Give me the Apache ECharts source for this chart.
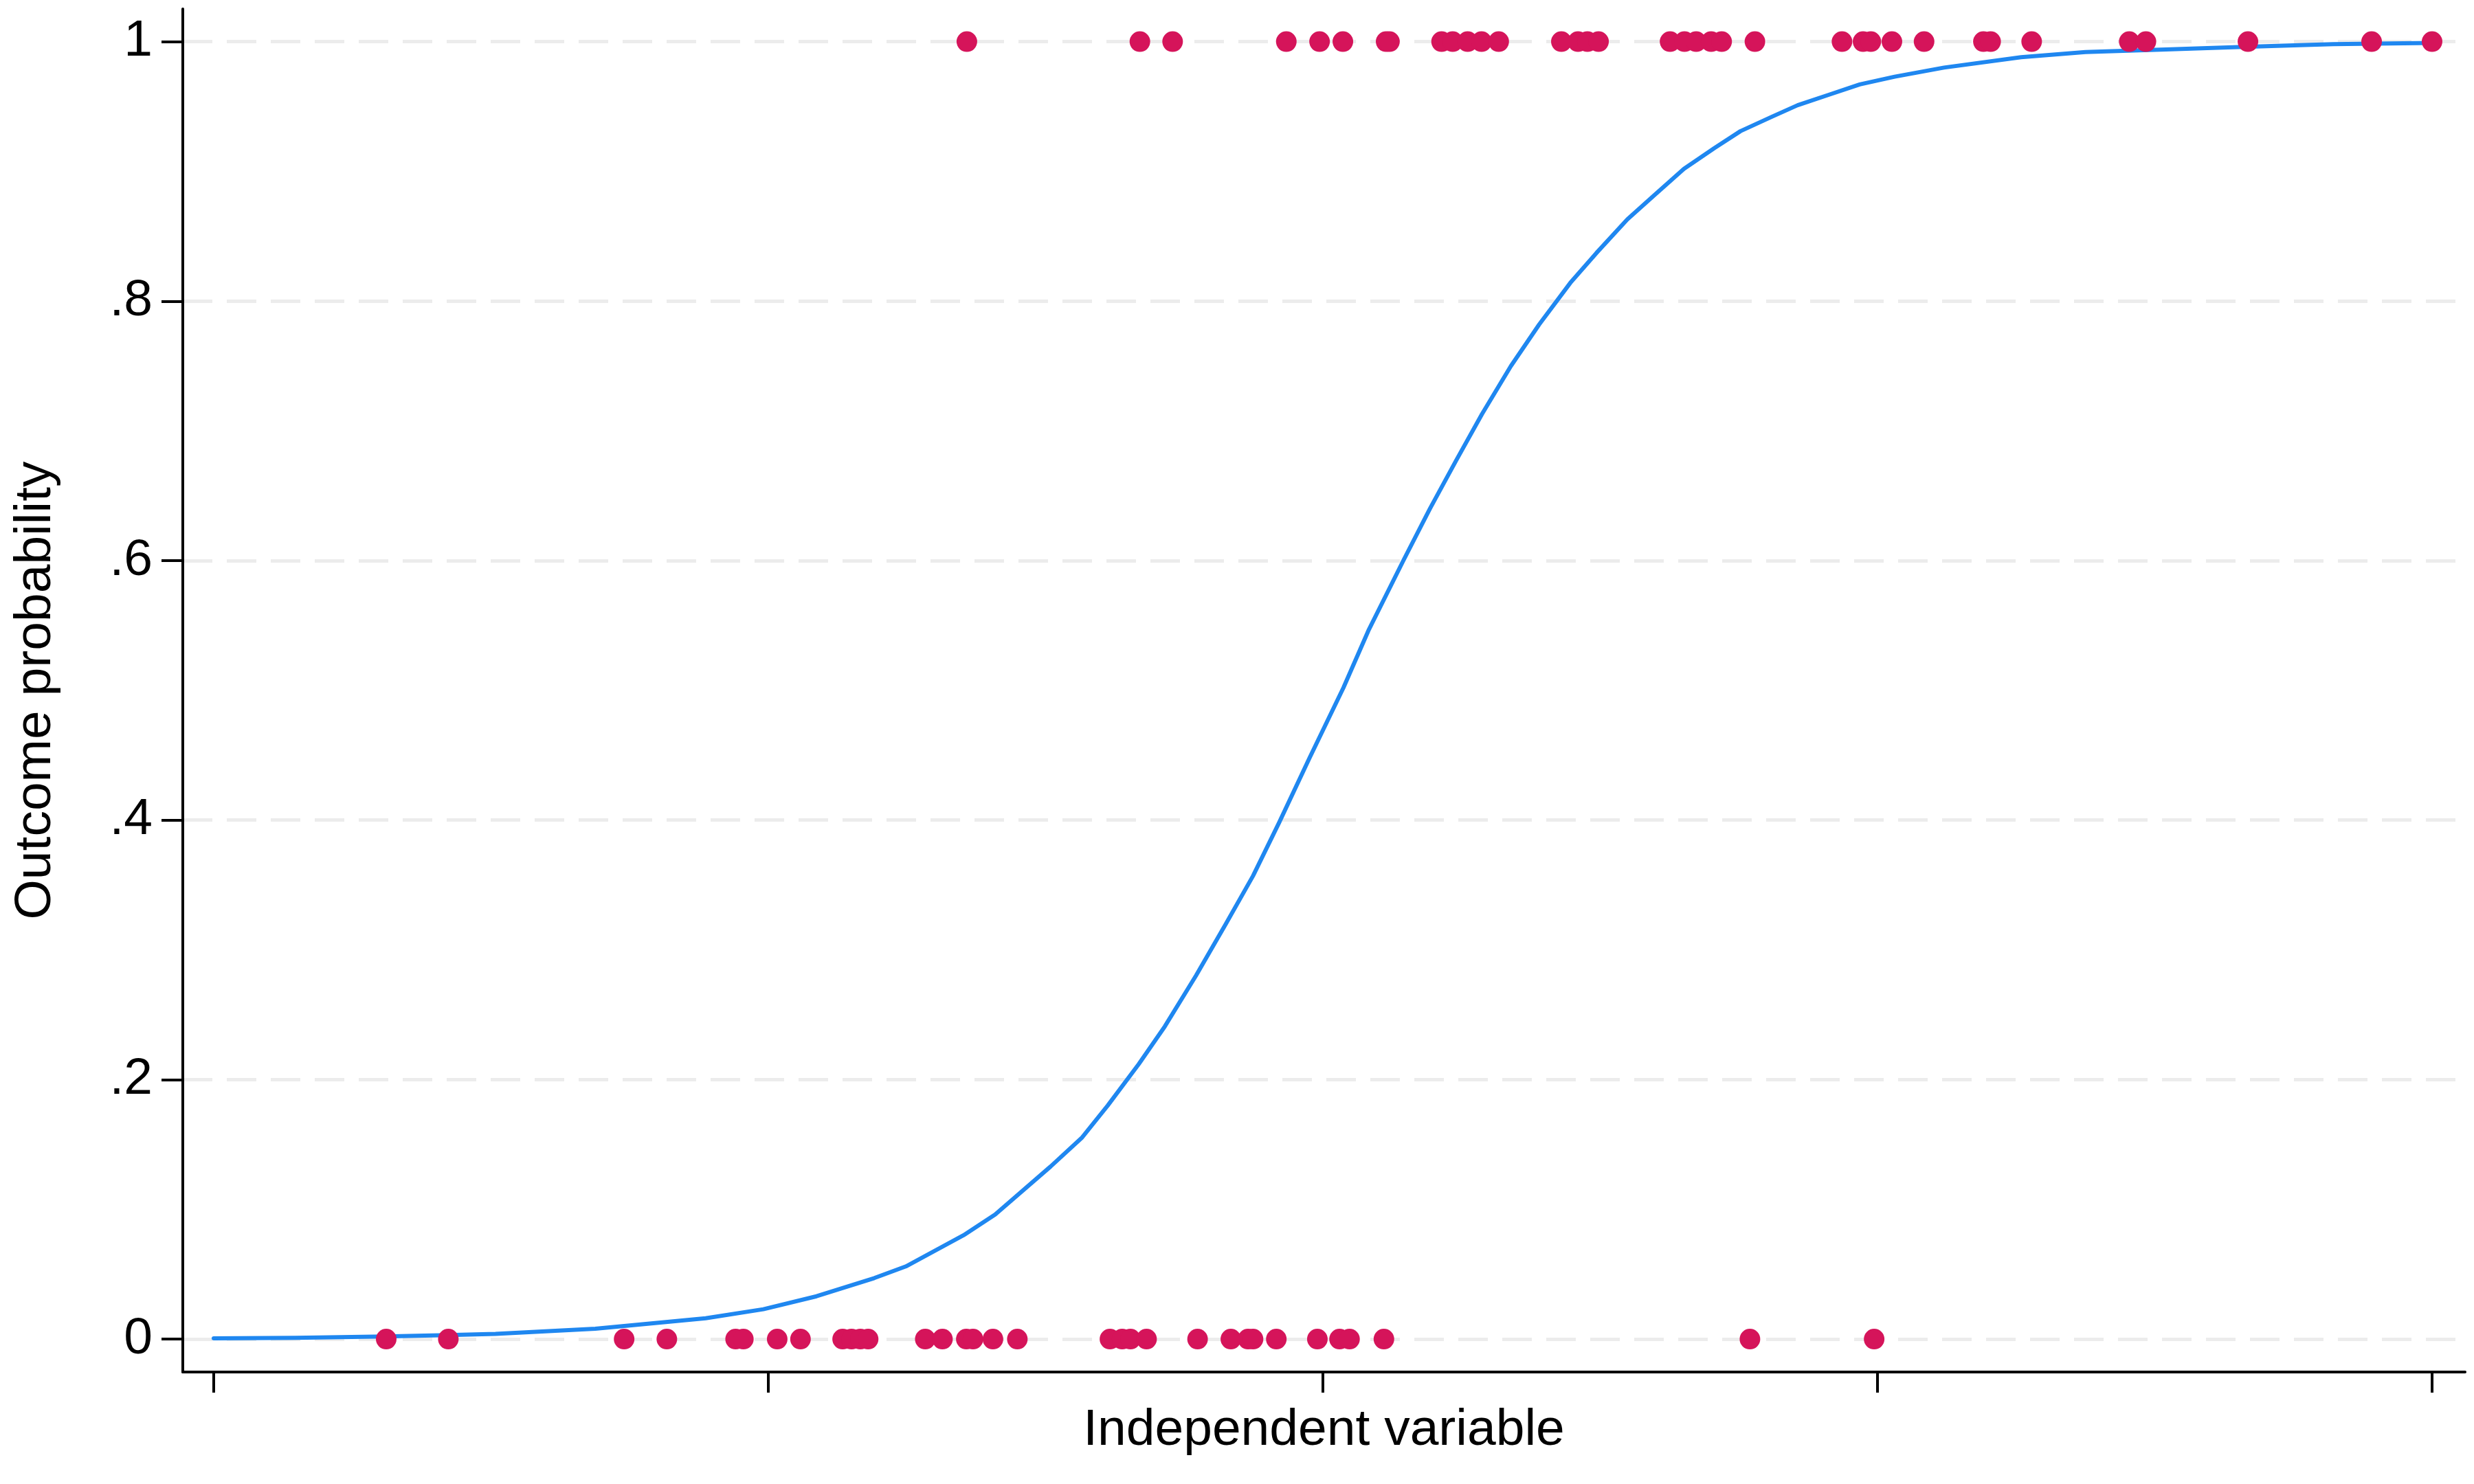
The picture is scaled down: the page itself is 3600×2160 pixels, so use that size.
<!DOCTYPE html>
<html>
<head>
<meta charset="utf-8">
<script src="https://cdn.jsdelivr.net/npm/echarts@6/dist/echarts.min.js"></script>
<style>
html,body{margin:0;padding:0;background:#ffffff;}
#chart{width:3600px;height:2160px;}
</style>
</head>
<body>
<div id="chart"></div>
<script>
// ---- data ----
const xTickValues = [-2, -1, 0, 1, 2];
const yTickValues = [0, 0.2, 0.4, 0.6, 0.8, 1];
const yTickLabels = ['0', '.2', '.4', '.6', '.8', '1'];

// fitted outcome probability curve (x, p)
const curveX = [-2.0, -1.853, -1.691, -1.577, -1.492, -1.312, -1.188, -1.113, -1.009, -0.913,
  -0.809, -0.752, -0.648, -0.591, -0.491, -0.435, -0.388, -0.332, -0.285, -0.229,
  -0.175, -0.126, -0.079, -0.024, 0.037, 0.082, 0.145, 0.193, 0.240, 0.287,
  0.339, 0.390, 0.446, 0.493, 0.549, 0.596, 0.651, 0.706, 0.753, 0.809,
  0.856, 0.912, 0.968, 1.031, 1.120, 1.259, 1.375, 1.520, 1.660, 1.822, 2.0];
const curveP = [0.0005, 0.001, 0.002, 0.003, 0.004, 0.008, 0.013, 0.016, 0.023, 0.033,
  0.047, 0.056, 0.080, 0.096, 0.133, 0.155, 0.180, 0.212, 0.241, 0.280,
  0.320, 0.357, 0.398, 0.448, 0.502, 0.546, 0.600, 0.640, 0.677, 0.713,
  0.750, 0.782, 0.814, 0.837, 0.863, 0.881, 0.902, 0.918, 0.931, 0.942,
  0.951, 0.959, 0.967, 0.973, 0.980, 0.988, 0.992, 0.994, 0.996, 0.998, 0.999];

// observed outcomes
const outcome0X = [-1.689, -1.577, -1.260, -1.183, -1.059, -1.045, -0.984, -0.942, -0.866, -0.850,
  -0.834, -0.820, -0.717, -0.686, -0.643, -0.631, -0.595, -0.551, -0.384, -0.362,
  -0.347, -0.318, -0.226, -0.166, -0.135, -0.126, -0.084, -0.010, 0.030, 0.048,
  0.110, 0.770, 0.994];
const outcome1X = [-0.642, -0.330, -0.271, -0.066, -0.006, 0.036, 0.114, 0.120, 0.214, 0.234,
  0.261, 0.286, 0.317, 0.430, 0.460, 0.477, 0.497, 0.626, 0.652, 0.673,
  0.700, 0.719, 0.779, 0.936, 0.974, 0.988, 1.026, 1.084, 1.191, 1.204,
  1.278, 1.454, 1.484, 1.668, 1.891, 2.0];

const xTitle = 'Independent variable';
const yTitle = 'Outcome probability';

// ---- chart ----
const font = "'Liberation Sans', Arial, Helvetica, sans-serif";
const chart = echarts.init(document.getElementById('chart'), null, {renderer: 'canvas'});

const curveData = curveX.map((x, i) => [x, curveP[i]]);
const zeroData = outcome0X.map(x => [x, 0]);
const oneData = outcome1X.map(x => [x, 1]);

chart.setOption({
  animation: false,
  backgroundColor: '#ffffff',
  grid: {left: 266, right: 13, top: 13, bottom: 163, containLabel: false},
  xAxis: {
    type: 'value',
    min: -2.0558,
    max: 2.0595,
    name: xTitle,
    nameLocation: 'middle',
    nameGap: 48,
    nameTextStyle: {fontFamily: font, fontSize: 75, color: '#000000'},
    axisLine: {show: true, onZero: false, lineStyle: {color: '#000000', width: 4}},
    axisTick: {show: true, length: 30, inside: false, customValues: xTickValues,
      lineStyle: {color: '#000000', width: 4}},
    axisLabel: {show: false},
    splitLine: {show: false}
  },
  yAxis: {
    type: 'value',
    min: -0.0254,
    max: 1.0252,
    name: yTitle,
    nameLocation: 'middle',
    nameGap: 176,
    nameTextStyle: {fontFamily: font, fontSize: 75, color: '#000000'},
    axisLine: {show: true, onZero: false, lineStyle: {color: '#000000', width: 4}},
    axisTick: {show: true, length: 31, inside: false, customValues: yTickValues,
      lineStyle: {color: '#000000', width: 4}},
    axisLabel: {show: true, customValues: yTickValues, margin: 44,
      fontFamily: font, fontSize: 75, color: '#000000',
      formatter: function (v) {
        const i = yTickValues.findIndex(t => Math.abs(t - v) < 1e-9);
        return i >= 0 ? yTickLabels[i] : '';
      }},
    splitLine: {show: true, lineStyle: {color: '#ececec', width: 5, type: [43, 21]}}
  },
  series: [
    {
      type: 'line',
      data: curveData,
      showSymbol: false,
      smooth: false,
      lineStyle: {color: '#1f87f0', width: 6, join: 'round', cap: 'round'},
      z: 2
    },
    {
      type: 'scatter',
      data: zeroData,
      symbol: 'circle',
      symbolSize: 30,
      itemStyle: {color: '#d5145a', opacity: 1},
      z: 3
    },
    {
      type: 'scatter',
      data: oneData,
      symbol: 'circle',
      symbolSize: 30,
      itemStyle: {color: '#d5145a', opacity: 1},
      z: 3
    }
  ]
});
</script>
</body>
</html>
